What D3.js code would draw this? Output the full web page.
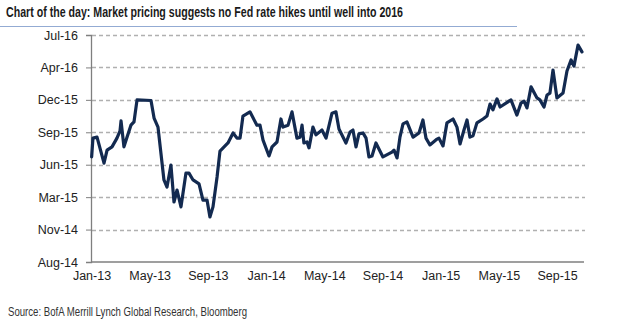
<!DOCTYPE html>
<html><head><meta charset="utf-8">
<script src="https://cdn.jsdelivr.net/npm/d3@7"></script>
<style>
html,body{margin:0;padding:0;background:#fff;}
svg{display:block;}
</style></head>
<body><svg id="c" width="625" height="327"></svg>
<script>
// x tick labels (every 4 months from Jan-13)
const xTickLabels = ["Jan-13","May-13","Sep-13","Jan-14","May-14","Sep-14","Jan-15","May-15","Sep-15"];
const xTickValues = [0,4,8,12,16,20,24,28,32]; // months since Jan-2013
// y tick labels (expected first hike date, axis steps of ~100 days)
const yTickLabels = ["Aug-14","Nov-14","Mar-15","Jun-15","Sep-15","Dec-15","Apr-16","Jul-16"];
// observation time, months since Jan-2013
const obsMonth = [0.01,0.10,0.38,0.86,1.07,1.41,1.75,1.96,2.03,2.23,2.44,2.71,2.92,3.13,4.09,4.30,4.57,4.98,5.19,5.46,
5.67,5.88,6.15,6.49,6.70,6.98,7.39,7.66,7.94,8.14,8.35,8.63,8.83,9.38,9.73,10.00,10.21,10.41,10.89,11.37,
11.58,11.79,12.20,12.41,12.75,13.02,13.16,13.51,13.78,14.12,14.33,14.47,14.60,14.81,14.95,15.22,15.43,15.84,16.12,16.53,
16.80,17.01,17.49,17.77,17.97,18.18,18.38,18.66,18.87,19.07,19.28,19.55,20.03,20.65,20.79,21.00,21.20,21.41,21.68,22.10,
22.51,22.78,22.99,23.26,23.75,23.88,24.16,24.43,24.85,25.12,25.33,25.60,25.81,26.01,26.22,26.49,26.91,27.18,27.39,27.59,
27.87,28.08,28.83,29.24,29.52,29.73,29.93,30.21,30.62,30.82,31.10,31.31,31.51,31.72,31.99,32.41,32.68,32.96,33.16,33.44,33.71];
// implied first hike date, in y-axis tick units (0 = Aug-14 ... 7 = Jul-16)
const impliedHike = [3.24,3.82,3.85,3.05,3.45,3.55,3.82,4.04,4.35,3.55,3.85,4.22,4.32,5.00,4.98,4.44,4.16,2.53,2.31,2.99,
1.85,2.22,1.70,2.74,2.74,2.53,2.41,1.91,1.91,1.39,1.70,2.62,3.42,3.67,3.98,3.82,3.82,4.50,4.63,4.22,
4.22,3.76,3.27,3.55,3.70,4.41,4.16,4.22,4.63,3.82,3.85,4.22,3.67,3.70,3.52,4.16,3.92,4.07,3.82,4.59,
4.63,4.10,3.67,4.01,4.07,3.55,3.95,3.98,3.82,3.24,3.27,3.67,3.24,3.39,3.45,3.21,3.85,4.26,4.32,3.85,
3.98,4.38,3.82,3.61,3.79,3.82,3.58,4.29,4.41,4.16,3.64,4.07,4.38,3.85,3.89,4.29,4.41,4.50,4.87,4.69,
5.03,4.78,5.00,4.53,4.90,4.96,4.75,5.40,5.06,5.00,4.78,5.15,5.21,5.92,5.06,5.21,5.89,6.23,6.04,6.69,6.48];

const titleText = "Chart of the day: Market pricing suggests no Fed rate hikes until well into 2016";
const sourceText = "Source:  BofA Merrill Lynch Global Research, Bloomberg";

const svg = d3.select("#c");
const x = d3.scaleLinear().domain([0, 33.85]).range([91.5, 584]);
const y = d3.scaleLinear().domain([0, 7]).range([262, 35]);

// title
svg.append("text").attr("x", 6).attr("y", 17)
  .attr("font-family", "'Liberation Sans Narrow','Arial Narrow','Liberation Sans',sans-serif")
  .attr("font-weight", "bold").attr("font-size", 15.5).attr("fill", "#1a1a1a")
  .attr("textLength", 397).attr("lengthAdjust", "spacingAndGlyphs")
  .text(titleText);
svg.append("line").attr("x1", 0).attr("x2", 517).attr("y1", 26.5).attr("y2", 26.5)
  .attr("stroke", "#93abd3").attr("stroke-width", 1.2);

// gridlines
svg.append("g").selectAll("line").data(d3.range(1, 8)).join("line")
  .attr("x1", 92).attr("x2", 585)
  .attr("y1", d => Math.round(y(d)) + 0.5).attr("y2", d => Math.round(y(d)) + 0.5)
  .attr("stroke", "#b0b0b0").attr("stroke-width", 1.4).attr("stroke-dasharray", "4,3");

// y axis
const yAxis = d3.axisLeft(y).tickValues(d3.range(0, 8)).tickFormat(i => yTickLabels[i])
  .tickSize(5).tickPadding(8);
const gy = svg.append("g").attr("transform", "translate(91,0)").call(yAxis);
gy.select(".domain").attr("stroke", "#7f7f7f").attr("stroke-width", 1.3);
gy.selectAll(".tick line").attr("stroke", "#7f7f7f");
gy.selectAll("text").attr("font-family", "'Liberation Sans',Arial,sans-serif")
  .attr("font-size", 12.5).attr("fill", "#222");

// x axis
const xAxis = d3.axisBottom(x).tickValues(xTickValues).tickFormat((d, i) => xTickLabels[i])
  .tickSize(0).tickPadding(9).tickSizeOuter(0);
const gx = svg.append("g").attr("transform", "translate(0,262)").call(xAxis);
gx.select(".domain").attr("stroke", "#7f7f7f").attr("stroke-width", 1.3)
  .attr("d", `M91,0H584`);
gx.selectAll("text").attr("font-family", "'Liberation Sans',Arial,sans-serif")
  .attr("font-size", 12.5).attr("fill", "#222");

// line
const pts = obsMonth.map((m, i) => [m, impliedHike[i]]);
svg.append("path").datum(pts)
  .attr("fill", "none").attr("stroke", "#132a50").attr("stroke-width", 3.2)
  .attr("stroke-linejoin", "round").attr("stroke-linecap", "round")
  .attr("d", d3.line().x(d => x(d[0])).y(d => y(d[1])));

// source
svg.append("text").attr("x", 8).attr("y", 316)
  .attr("font-family", "'Liberation Sans Narrow','Arial Narrow','Liberation Sans',sans-serif")
  .attr("font-size", 12).attr("fill", "#333")
  .attr("textLength", 239).attr("lengthAdjust", "spacingAndGlyphs")
  .text(sourceText);
</script></body></html>
